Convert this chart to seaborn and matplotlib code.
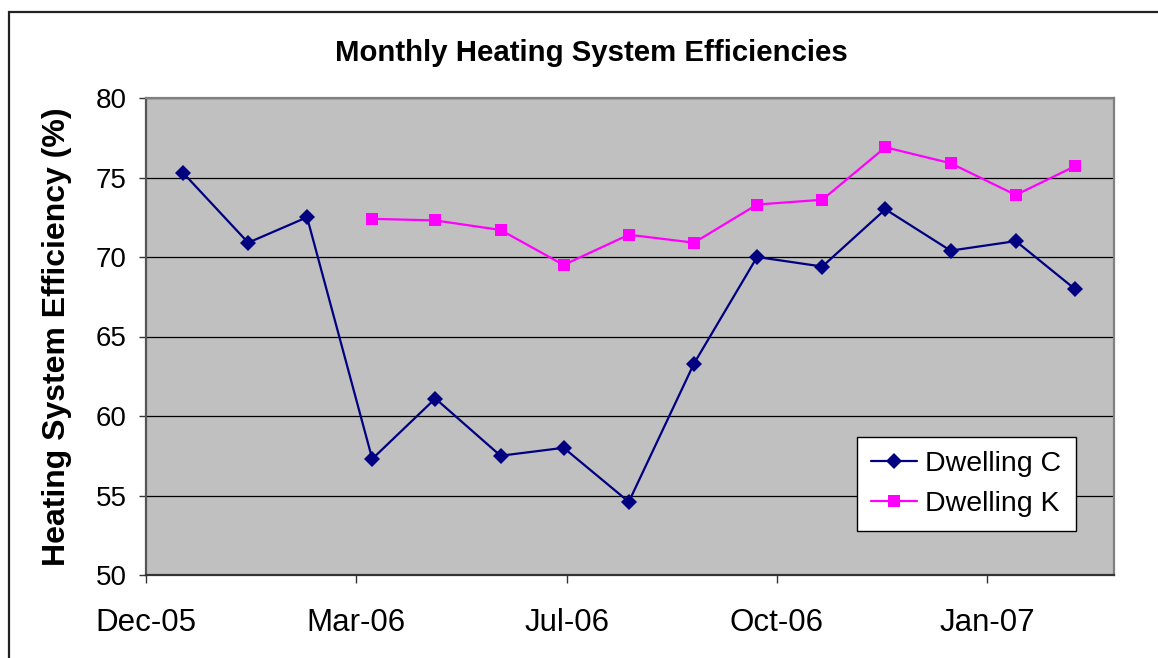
import datetime as dt

import matplotlib
matplotlib.use("Agg")
import matplotlib.dates as mdates
import matplotlib.pyplot as plt
from matplotlib.patches import Rectangle
import pandas as pd
import seaborn as sns

# Monthly readings (first of each month)
months = pd.date_range("2006-01-01", "2007-03-01", freq="MS")
dwelling_c = [75.3, 70.9, 72.5, 57.3, 61.1, 57.5, 58.0, 54.6, 63.3,
              70.0, 69.4, 73.0, 70.4, 71.0, 68.0]
# Dwelling K monitoring started in April 2006
k_months = months[3:]
dwelling_k = [72.4, 72.3, 71.7, 69.5, 71.4, 70.9, 73.3, 73.6, 76.9,
              75.9, 73.9, 75.7]

series_names = ["Dwelling C", "Dwelling K"]
y_ticks = [50, 55, 60, 65, 70, 75, 80]

df = pd.concat([
    pd.DataFrame({"date": months, "eff": dwelling_c, "series": series_names[0]}),
    pd.DataFrame({"date": k_months, "eff": dwelling_k, "series": series_names[1]}),
], ignore_index=True)

sns.set_theme(style="white")
plt.rcParams["font.family"] = ["Liberation Sans", "DejaVu Sans"]
for key in ("text.color", "axes.labelcolor", "xtick.color", "ytick.color"):
    plt.rcParams[key] = "black"

W, H = 1158, 658
fig = plt.figure(figsize=(W / 100, H / 100), dpi=100)

# chart-area frame (open on the right and bottom)
fig.patches.append(Rectangle((9 / W, -0.2), 1.3, 1.2 - 12 / H,
                             transform=fig.transFigure, fill=False,
                             edgecolor="#222222", linewidth=1.6, zorder=0))

left, right, top, bottom = 146, 1114, 98, 575
ax = fig.add_axes([left / W, (H - bottom) / H, (right - left) / W, (bottom - top) / H])
ax.set_facecolor("#C0C0C0")

sns.lineplot(data=df, x="date", y="eff", hue="series", style="series",
             palette={"Dwelling C": "#000080", "Dwelling K": "#FF00FF"},
             markers={"Dwelling C": "D", "Dwelling K": "s"}, dashes=False,
             linewidth=1.6, markeredgewidth=0,
             ax=ax, legend=False, zorder=3)
for line in ax.lines:
    if line.get_marker() == "D":
        line.set_markersize(8.5)
    else:
        line.set_markersize(8.8)

# date axis: 100-day major unit
x0 = dt.datetime(2005, 12, 14, 10)
ax.set_xlim(mdates.date2num(x0), mdates.date2num(x0 + dt.timedelta(days=460.3)))
ax.set_xticks([mdates.date2num(x0 + dt.timedelta(days=100 * k)) for k in range(5)])
ax.xaxis.set_major_formatter(mdates.DateFormatter("%b-%y"))

ax.set_ylim(50, 80)
ax.set_yticks(y_ticks)
ax.yaxis.grid(True, color="black", linewidth=0.9)
ax.xaxis.grid(False)
ax.set_axisbelow(True)

for s in ax.spines.values():
    s.set_color("#808080")
    s.set_linewidth(1.6)
ax.spines["bottom"].set_color("#333333")
ax.spines["left"].set_color("#555555")

ax.tick_params(axis="x", which="major", direction="out", length=6, width=1,
               color="#333333", labelsize=22.5, pad=18, bottom=True)
ax.tick_params(axis="y", which="major", direction="out", length=5, width=1,
               color="#333333", labelsize=20, pad=9, left=True)

ax.set_xlabel("")
ax.set_ylabel("Heating System Efficiency (%)", fontsize=23,
              fontweight="bold")
ax.yaxis.set_label_coords(-(left - 72) / (right - left), 0.5)

fig.text(591 / W, 1 - 53 / H, "Monthly Heating System Efficiencies",
         ha="center", va="center", fontsize=21.2, fontweight="bold")

leg = ax.legend(handles=ax.lines[:2], labels=series_names,
                loc="upper left",
                bbox_to_anchor=((857 - left) / (right - left), (bottom - 437) / (bottom - top)),
                borderaxespad=0, fontsize=20.5, frameon=True, fancybox=False,
                edgecolor="black", facecolor="white", framealpha=1,
                handlelength=1.6, handletextpad=0.3, borderpad=0.5,
                labelspacing=0.48)
leg.get_frame().set_linewidth(1.0)

fig.savefig("out.png", dpi=100)
